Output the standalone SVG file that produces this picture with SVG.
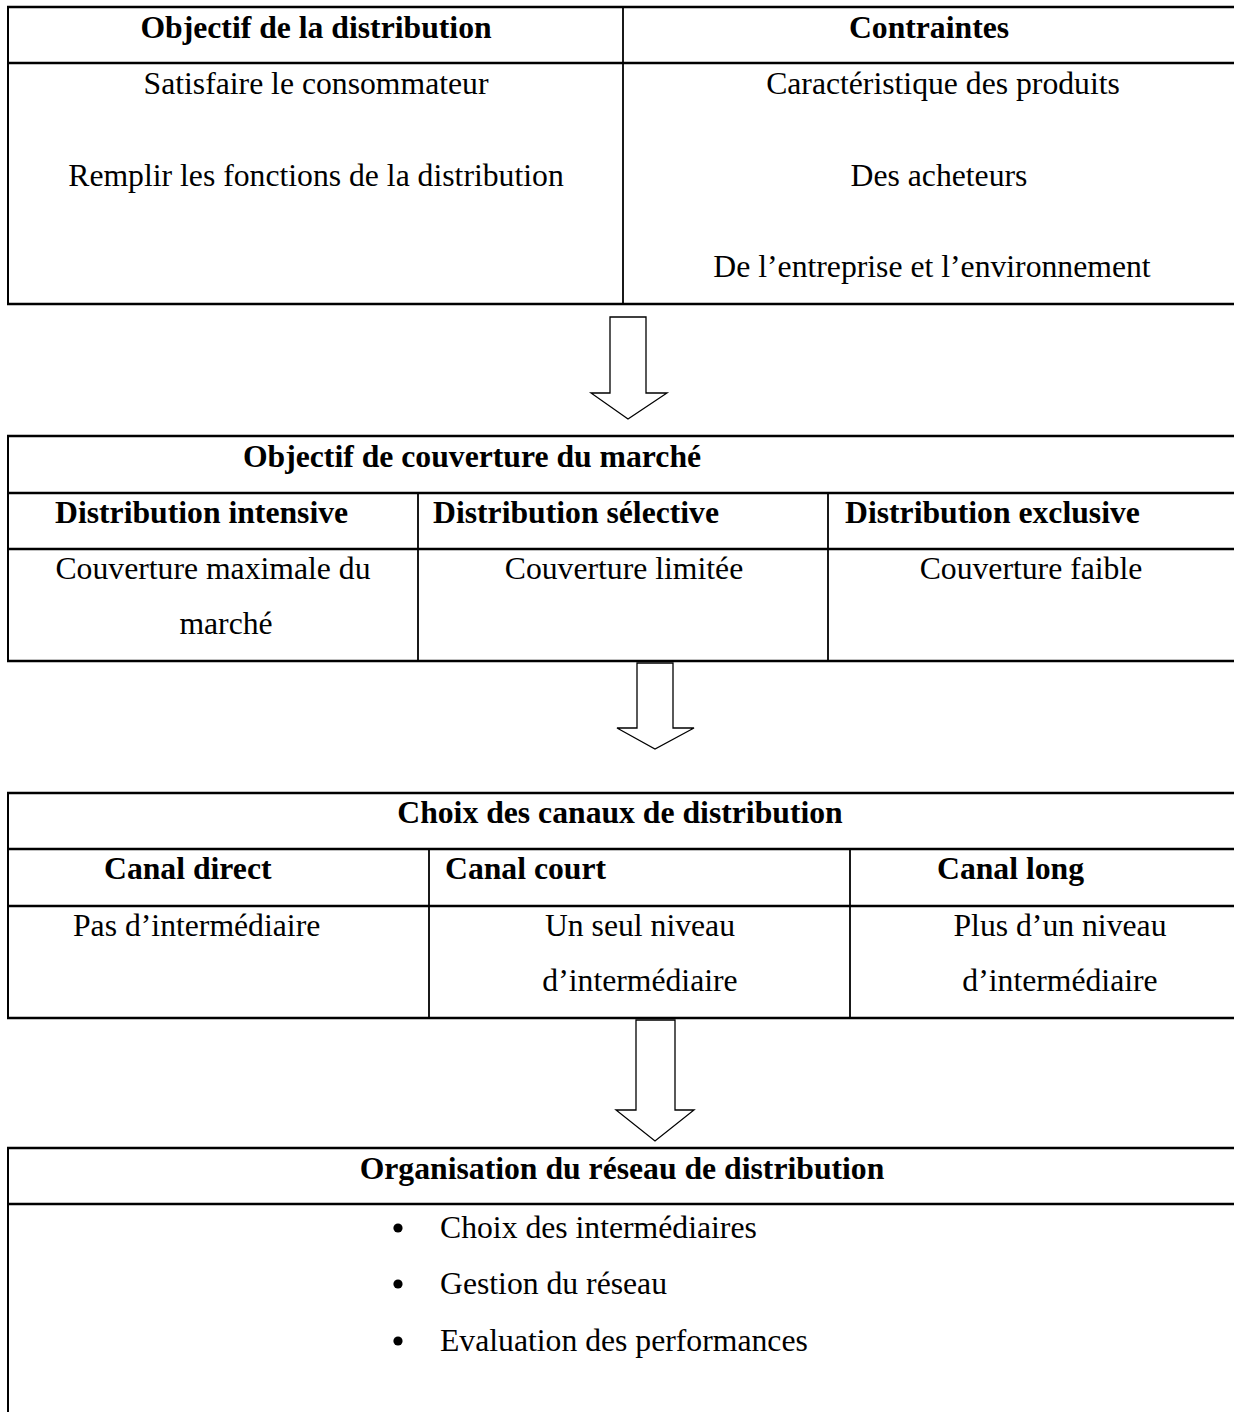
<svg xmlns="http://www.w3.org/2000/svg" width="1234" height="1412" viewBox="0 0 1234 1412">
<style>
.t{font-family:"Liberation Serif","Times New Roman",serif;font-size:31.7px;fill:#000}
.b{font-weight:bold}
.h{stroke:#000;stroke-width:2.3;fill:none}
.v{stroke:#000;stroke-width:1.8;fill:none}
.edge{stroke:#000;stroke-width:2;fill:none}
.arr{fill:#fff;stroke:#000;stroke-width:1.3;stroke-linejoin:miter}
</style>
<rect width="1234" height="1412" fill="#fff"/>

<g id="table-objectifs">
<line class="h" x1="7" y1="7" x2="1240" y2="7"/>
<line class="h" x1="7" y1="63" x2="1240" y2="63"/>
<line class="h" x1="7" y1="304" x2="1240" y2="304"/>
<line class="edge" x1="8" y1="6" x2="8" y2="305"/>
<line class="v" x1="623" y1="7" x2="623" y2="304"/>
<text class="t b" x="316" y="38" text-anchor="middle">Objectif de la distribution</text>
<text class="t b" x="929" y="38" text-anchor="middle">Contraintes</text>
<text class="t" x="316" y="94" text-anchor="middle">Satisfaire le consommateur</text>
<text class="t" x="316" y="186" text-anchor="middle">Remplir les fonctions de la distribution</text>
<text class="t" x="943" y="94" text-anchor="middle">Caractéristique des produits</text>
<text class="t" x="939" y="186" text-anchor="middle">Des acheteurs</text>
<text class="t" x="932" y="277" text-anchor="middle">De l’entreprise et l’environnement</text>
</g>

<g id="table-couverture">
<line class="h" x1="7" y1="436" x2="1240" y2="436"/>
<line class="h" x1="7" y1="493" x2="1240" y2="493"/>
<line class="h" x1="7" y1="549" x2="1240" y2="549"/>
<line class="h" x1="7" y1="661" x2="1240" y2="661"/>
<line class="edge" x1="8" y1="435" x2="8" y2="662"/>
<line class="v" x1="418" y1="493" x2="418" y2="661"/>
<line class="v" x1="828" y1="493" x2="828" y2="661"/>
<text class="t b" x="472" y="467" text-anchor="middle">Objectif de couverture du marché</text>
<text class="t b" x="55" y="523">Distribution intensive</text>
<text class="t b" x="433" y="523">Distribution sélective</text>
<text class="t b" x="845" y="523">Distribution exclusive</text>
<text class="t" x="213" y="579" text-anchor="middle">Couverture maximale du</text>
<text class="t" x="226" y="634" text-anchor="middle">marché</text>
<text class="t" x="624" y="579" text-anchor="middle">Couverture limitée</text>
<text class="t" x="1031" y="579" text-anchor="middle">Couverture faible</text>
</g>

<g id="table-canaux">
<line class="h" x1="7" y1="793" x2="1240" y2="793"/>
<line class="h" x1="7" y1="849" x2="1240" y2="849"/>
<line class="h" x1="7" y1="906" x2="1240" y2="906"/>
<line class="h" x1="7" y1="1018" x2="1240" y2="1018"/>
<line class="edge" x1="8" y1="792" x2="8" y2="1019"/>
<line class="v" x1="429" y1="849" x2="429" y2="1018"/>
<line class="v" x1="850" y1="849" x2="850" y2="1018"/>
<text class="t b" x="620" y="823" text-anchor="middle">Choix des canaux de distribution</text>
<text class="t b" x="104" y="879">Canal direct</text>
<text class="t b" x="445" y="879">Canal court</text>
<text class="t b" x="937" y="879">Canal long</text>
<text class="t" x="73" y="936">Pas d’intermédiaire</text>
<text class="t" x="640" y="936" text-anchor="middle">Un seul niveau</text>
<text class="t" x="640" y="991" text-anchor="middle">d’intermédiaire</text>
<text class="t" x="1060" y="936" text-anchor="middle">Plus d’un niveau</text>
<text class="t" x="1060" y="991" text-anchor="middle">d’intermédiaire</text>
</g>

<g id="table-organisation">
<line class="h" x1="7" y1="1148" x2="1240" y2="1148"/>
<line class="h" x1="7" y1="1204" x2="1240" y2="1204"/>
<line class="edge" x1="8" y1="1147" x2="8" y2="1412"/>
<text class="t b" x="622" y="1179" text-anchor="middle">Organisation du réseau de distribution</text>
<circle cx="398" cy="1228" r="4.6"/>
<circle cx="398" cy="1284" r="4.6"/>
<circle cx="398" cy="1341" r="4.6"/>
<text class="t" x="440" y="1238">Choix des intermédiaires</text>
<text class="t" x="440" y="1294">Gestion du réseau</text>
<text class="t" x="440" y="1351">Evaluation des performances</text>
</g>

<g id="connectors">
<path class="arr" d="M610,317 H646 V393 H667 L628,419 L591,393 H610 Z"/>
<path class="arr" d="M637,663 H673 V728 H694 L655,749 L617,728 H637 Z"/>
<path class="arr" d="M636,1020 H675 V1110 H694 L655,1141 L616,1110 H636 Z"/>
</g>
</svg>
